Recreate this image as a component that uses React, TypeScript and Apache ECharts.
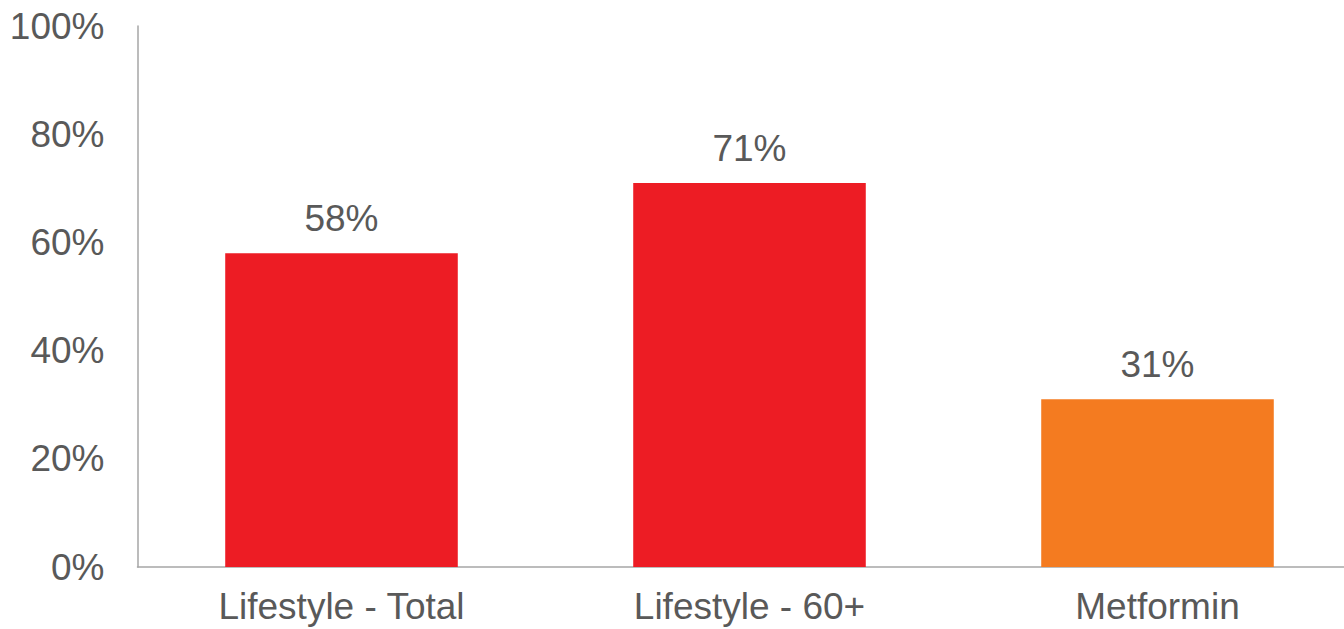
import React, { useEffect, useRef } from "react";
import * as echarts from "echarts";

const categories = ["Lifestyle - Total", "Lifestyle - 60+", "Metformin"];
const values = [58, 71, 31];
const barColors = ["#ED1C24", "#ED1C24", "#F47B20"];
const yTicks = [0, 20, 40, 60, 80, 100];

export default function App() {
  const ref = useRef<HTMLDivElement>(null);
  useEffect(() => {
    if (!ref.current) return;
    const chart = echarts.init(ref.current, undefined, { renderer: "svg" });
    const font = "'Liberation Sans', Arial, sans-serif";
    chart.setOption({
      animation: false,
      grid: {
        left: 137.5,
        width: 1224,
        top: 26,
        bottom: 62,
        containLabel: false,
        outerBoundsMode: "none",
      },
      xAxis: {
        type: "category",
        data: categories,
        axisLine: { show: true, lineStyle: { color: "#A6A6A6", width: 1.5 } },
        axisTick: { show: false },
        axisLabel: { color: "#595959", fontSize: 37, fontFamily: font, margin: 21 },
      },
      yAxis: {
        type: "value",
        min: yTicks[0],
        max: yTicks[yTicks.length - 1],
        interval: 20,
        axisLine: { show: true, lineStyle: { color: "#A6A6A6", width: 1.5 } },
        axisTick: { show: false },
        splitLine: { show: false },
        axisLabel: {
          color: "#595959",
          fontSize: 37,
          fontFamily: font,
          margin: 33,
          formatter: (v: number) => `${v}%`,
        },
      },
      series: [
        {
          type: "bar",
          barWidth: "57%",
          data: values.map((v, i) => ({ value: v, itemStyle: { color: barColors[i] } })),
          label: {
            show: true,
            position: "top",
            distance: 16,
            color: "#595959",
            fontSize: 37,
            fontFamily: font,
            formatter: (p: any) => `${p.value}%`,
          },
        },
      ],
    });
    return () => chart.dispose();
  }, []);
  return (
    <div
      ref={ref}
      style={{ position: "fixed", left: 0, top: 0, width: 1344, height: 629, background: "#fff" }}
    />
  );
}
